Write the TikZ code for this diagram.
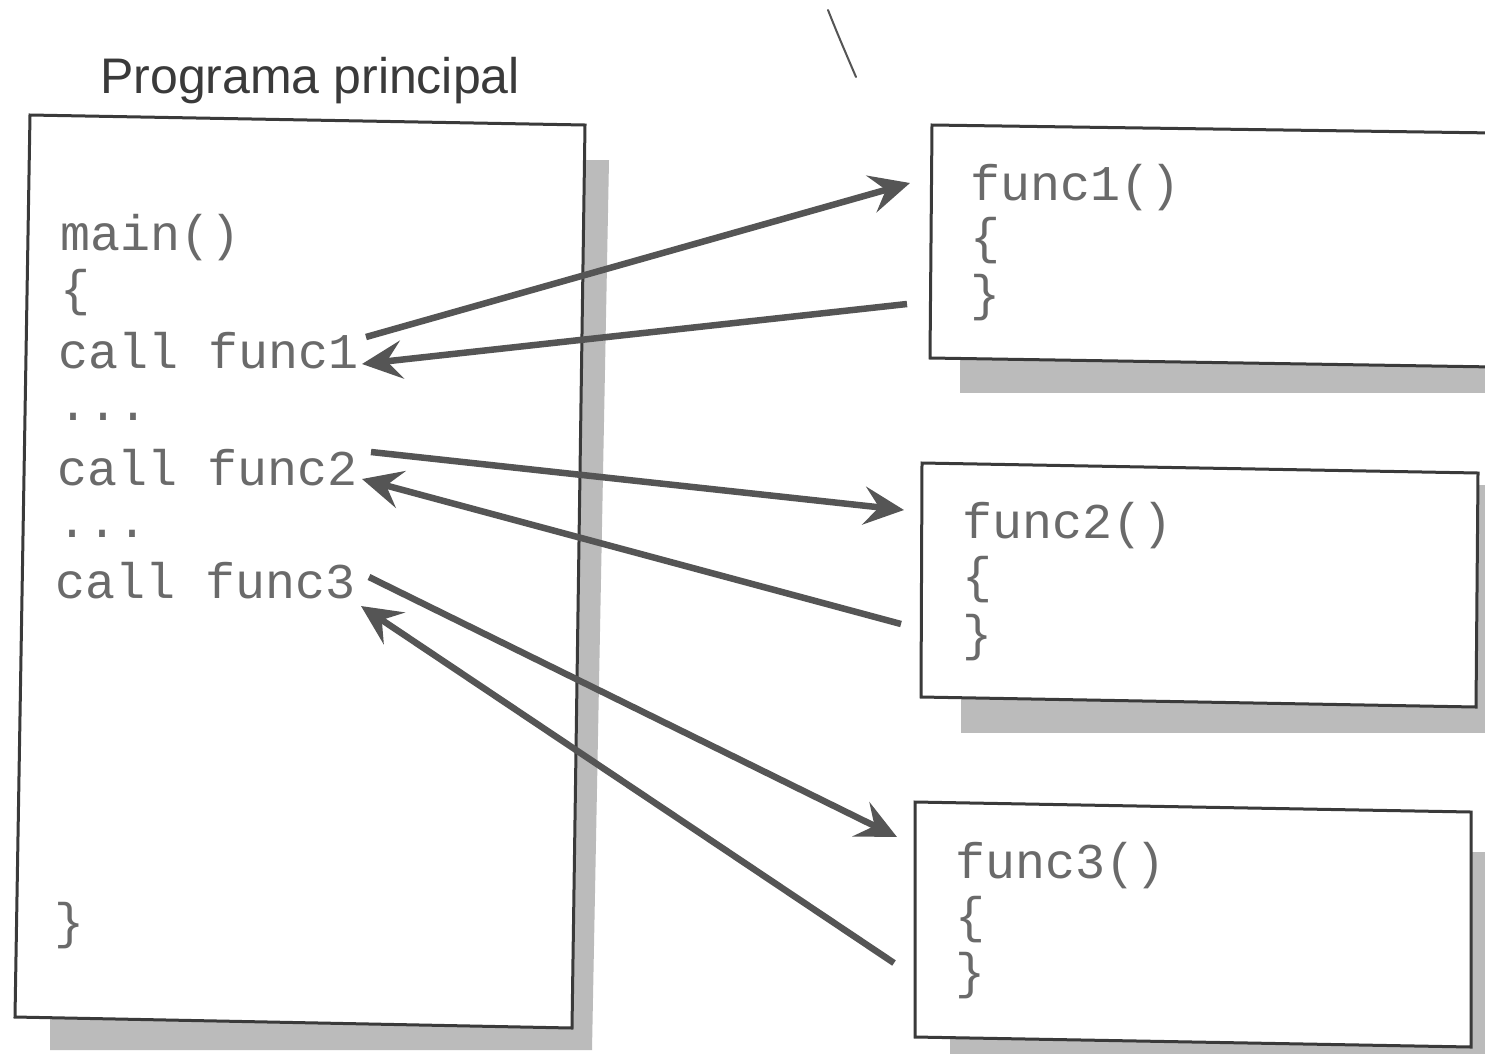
\documentclass[tikz,border=0pt]{standalone}
\usepackage{fontspec}
\usetikzlibrary{arrows.meta}
\newfontfamily\codefont{Liberation Mono}
\newfontfamily\titlefont{Liberation Sans}
\definecolor{codec}{HTML}{6A6A6A}
\definecolor{linec}{HTML}{3A3A3A}
\definecolor{arrowc}{HTML}{555555}
\definecolor{shadowc}{HTML}{BBBBBB}
\tikzset{
  code/.style={anchor=base west, inner sep=0pt, text=codec, font=\codefont\fontsize{50}{60}\selectfont},
  titletext/.style={anchor=base west, inner sep=0pt, text=linec, font=\titlefont\fontsize{50}{60}\selectfont},
  boxline/.style={draw=linec, line width=3pt, fill=white, line join=miter},
  shadowfill/.style={fill=shadowc, draw=none},
  callarrow/.style={draw=arrowc, line width=6.5pt, -{Stealth[length=40pt, width=38pt, inset=15pt]}}
}
\begin{document}
\begin{tikzpicture}[x=1pt,y=-1pt]
\useasboundingbox (0,0) rectangle (1485,1053);
\fill[white] (0,0) rectangle (1485,1053);
\begin{scope}
\clip (0,0) rectangle (1485,1053);
% shadows
\path[shadowfill] (50,160) -- (609,160) -- (592,1050) -- (50,1050) -- cycle;
\path[shadowfill] (960,150) -- (1495,150) -- (1495,393) -- (960,393) -- cycle;
\path[shadowfill] (961,485) -- (1487,485) -- (1487,733) -- (961,733) -- cycle;
\path[shadowfill] (950,852) -- (1486,852) -- (1486,1060) -- (950,1060) -- cycle;
% boxes
\path[boxline] (30,115) -- (585,125) -- (572,1028) -- (15,1017) -- cycle;
\path[boxline] (932,125) -- (1495,133) -- (1495,367) -- (930,358) -- cycle;
\path[boxline] (922,463) -- (1478,473) -- (1476,707) -- (921,697) -- cycle;
\path[boxline] (915,802) -- (1471,812) -- (1471,1047) -- (915,1037) -- cycle;
\end{scope}
% stray mark
\draw[arrowc, line width=2pt, line cap=round] (828,10) .. controls (838,35) .. (856,77);
% title
\node[titletext] (title) at (100,93) {Programa principal};
% main program text
\node[code] (mainhdr) at (60,250) {main()};
\node[code] (mopen) at (60,305) {\{};
\node[code] (call1) at (58,368) {call func1};
\node[code] (dots1) at (58,420) {...};
\node[code] (call2) at (57,485) {call func2};
\node[code] (dots2) at (57,537) {...};
\node[code] (call3) at (55,598) {call func3};
\node[code] (mclose) at (54,938) {\}};
% function boxes text
\node[code] (f1hdr) at (970,200) {func1()};
\node[code] (f1open) at (970,253) {\{};
\node[code] (f1close) at (970,310) {\}};
\node[code] (f2hdr) at (962,538) {func2()};
\node[code] (f2open) at (962,592) {\{};
\node[code] (f2close) at (962,650) {\}};
\node[code] (f3hdr) at (955,878) {func3()};
\node[code] (f3open) at (955,932) {\{};
\node[code] (f3close) at (955,988) {\}};
% connector end points
\coordinate (c1out) at (366,337);
\coordinate (f1in) at (910,183);
\coordinate (f1out) at (907,304);
\coordinate (c1in) at (362,364);
\coordinate (c2out) at (371,452);
\coordinate (f2in) at (904,510);
\coordinate (f2out) at (901,624);
\coordinate (c2in) at (362,479);
\coordinate (c3out) at (369,577);
\coordinate (f3in) at (897,837);
\coordinate (f3out) at (894,963);
\coordinate (c3in) at (361,606);
% connectors
\draw[callarrow] (c1out) -- (f1in);
\draw[callarrow] (f1out) -- (c1in);
\draw[callarrow] (c2out) -- (f2in);
\draw[callarrow] (f2out) -- (c2in);
\draw[callarrow] (c3out) -- (f3in);
\draw[callarrow] (f3out) -- (c3in);
\end{tikzpicture}
\end{document}
